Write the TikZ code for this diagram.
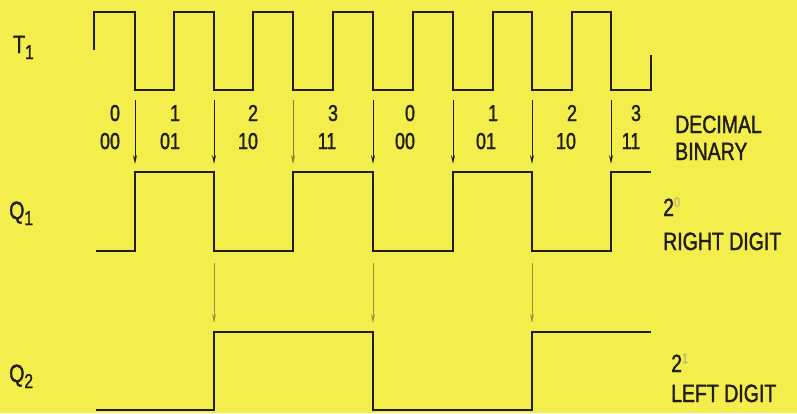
\documentclass[tikz,border=0pt]{standalone}
\usepackage{fontspec}
\setmainfont{Liberation Sans}[FakeStretch=0.78,FakeBold=1.4]
\usetikzlibrary{arrows.meta}
\definecolor{bgYel}{HTML}{F4EE4C}
\definecolor{ink}  {HTML}{211D14}
\definecolor{olv}  {HTML}{9E9133}
\newcommand{\sigsub}[2]{#1\raisebox{-6pt}{\fontsize{20}{20}\selectfont #2}}
\newcommand{\pwr}[1]{2\raisebox{9pt}{\fontsize{14}{14}\selectfont\color{olv!65}#1}}

\begin{document}
\begin{tikzpicture}[x=1pt,y=-1pt,
      wave/.style={draw=ink,line width=2.4pt,line join=miter},
      tick/.style={draw=ink,line width=1pt,-{Stealth[length=9pt,width=4pt]}},
      lbl/.style={text=ink,inner sep=0pt,anchor=base west,font=\fontsize{25}{25}\selectfont},
      num/.style={text=ink,inner sep=0pt,anchor=base,font=\fontsize{23}{23}\selectfont}]
    \fill[bgYel] (0,0) rectangle (797,413);
    \useasboundingbox (0,0) rectangle (797,413);
    % signal names
    \node[lbl] (t1) at (13,53)  {\sigsub{T}{1}};
    \node[lbl] (q1) at (9,219)  {\sigsub{Q}{1}};
    \node[lbl] (q2) at (9,382)  {\sigsub{Q}{2}};
    % clock
    \draw[wave] (94,50) -- (94,12) -- (135,12) -- (135,90) -- (174,90) -- (174,12)
      -- (214,12) -- (214,90) -- (253,90) -- (253,12) -- (293,12) -- (293,90)
      -- (333,90) -- (333,12) -- (373,12) -- (373,90) -- (413,90) -- (413,12)
      -- (453,12) -- (453,90) -- (493,90) -- (493,12) -- (532,12) -- (532,90)
      -- (572,90) -- (572,12) -- (611,12) -- (611,90) -- (651,90) -- (651,55);
    % falling edges
    \foreach \x/\c [count=\i] in {135/ink,214/ink,293/olv!80!ink,373/ink,453/ink,532/ink,611/ink}{
      \coordinate (ft\i) at (\x,100);
      \coordinate (fb\i) at (\x,164);
      \draw[tick,draw=\c] (ft\i) -- (fb\i);
    }
    % counts
    \foreach \d/\b/\xd/\xb [count=\i] in {0/00/115/110,1/01/175/170,2/10/253/248,3/11/333/327,
                                          0/00/410/405,1/01/493/486,2/10/572/566,3/11/636/631}{
      \node[num] (dec\i) at (\xd,121) {\d};
      \node[num] (bin\i) at (\xb,149) {\b};
    }
    \node[lbl] (decl) at (675,133) {DECIMAL};
    \node[lbl] (binl) at (675,160) {BINARY};
    % first flip-flop
    \draw[wave] (96,251) -- (135,251) -- (135,172) -- (214,172) -- (214,251) -- (293,251)
      -- (293,172) -- (373,172) -- (373,251) -- (453,251) -- (453,172) -- (532,172)
      -- (532,251) -- (611,251) -- (611,172) -- (651,172);
    \foreach \x [count=\i] in {214,373,532}{
      \coordinate (qt\i) at (\x,263);
      \coordinate (qb\i) at (\x,323);
      \draw[tick,draw=olv] (qt\i) -- (qb\i);
    }
    \node[lbl] (p0) at (663,216) {\pwr{0}};
    \node[lbl] (rd) at (663,250) {RIGHT DIGIT};
    % second flip-flop
    \draw[wave] (96,410) -- (214,410) -- (214,332) -- (373,332) -- (373,410) -- (532,410)
      -- (532,332) -- (651,332);
    \node[lbl] (p1) at (671,372) {\pwr{1}};
    \node[lbl] (ld) at (671,402) {LEFT DIGIT};
  \end{tikzpicture}
\end{document}
